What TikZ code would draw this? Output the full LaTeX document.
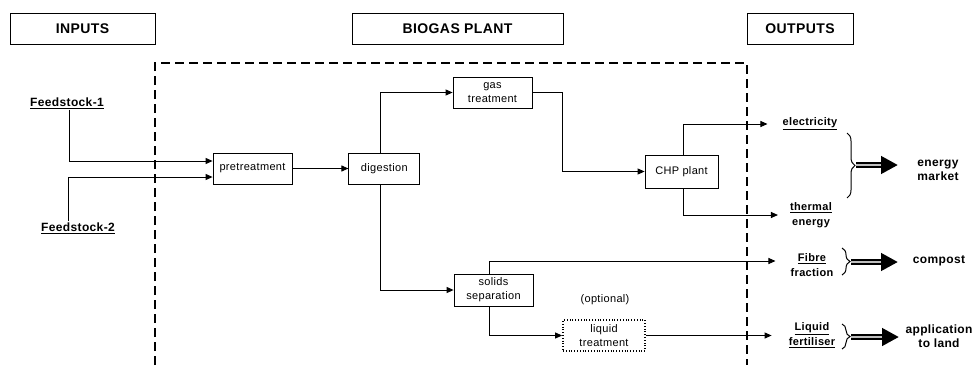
\documentclass[tikz,border=0pt]{standalone}
\usepackage{fontspec}
\setmainfont{Liberation Sans}[LetterSpace=3]
\usetikzlibrary{positioning, arrows.meta, decorations.pathreplacing}

\begin{document}
\begin{tikzpicture}[
                  x=1pt, y=-1pt,
                  box/.style={draw, line width=0.8pt, font=\fontsize{11}{14}\selectfont, inner sep=2pt,
                              minimum height=31pt, align=center},
                  head/.style={draw, line width=0.8pt, font=\fontsize{14}{16}\selectfont\bfseries,
                               minimum height=31pt},
                  feed/.style={font=\fontsize{12}{14}\selectfont\bfseries, inner sep=1pt},
                  prod/.style={font=\fontsize{11}{15}\selectfont\bfseries, inner sep=1pt, align=center},
                  final/.style={font=\fontsize{12}{14}\selectfont\bfseries, inner sep=1pt, align=center},
                  arr/.style={-{Triangle[length=7pt, width=6pt]}, line width=1pt},
                  plant/.style={line width=1.8pt, dash pattern=on 9pt off 5pt},
                  brc/.style={decorate, decoration={brace, amplitude=8pt}, line width=1pt},
                  dbl/.style={line width=5.5pt, -{Triangle[length=17pt, width=17pt]},
                              postaction={draw=gray!50, line width=1.8pt, -, shorten >=17pt}},
            ]
            \useasboundingbox (0,0) rectangle (976,365);

            % Row 0: headings
            \node[head, minimum width=145pt] (inp) at (82.5,28.5) {INPUTS};
            \node[head, minimum width=211pt] (bio) at (457.5,28.5) {BIOGAS PLANT};
            \node[head, minimum width=106pt] (outp) at (800,28.5) {OUTPUTS};

            % plant border (open at the bottom)
            \draw[plant] (155,365) |- (747,63) -- (747,365);

            % inputs
            \node[feed] (f1) at (67,103) {\underline{Feedstock-1}};
            \node[feed] (f2) at (78,228) {\underline{Feedstock-2}};

            % plant stages
            \node[box, minimum width=79pt] (pre) at (252.5,168.5) {pretreatment};
            \node[box, minimum width=71pt, right=56pt of pre] (dig) {digestion};
            \node[box, minimum width=79pt] (gas) at (492.5,92.5) {gas\\treatment};
            \node[box, minimum width=73pt, minimum height=33pt] (chp) at (681.5,171.5) {CHP plant};
            \node[box, minimum width=79pt, minimum height=32pt] (sol) at (493.5,290) {solids\\separation};
            \node[box, minimum width=82pt, dotted, line width=1.8pt] (liq) at (604,335.5) {liquid\\treatment};
            \node[font=\fontsize{11}{13}\selectfont] (opt) at (605,300) {(optional)};

            % products
            \node[prod] (elec) at (810,124) {\underline{electricity}};
            \node[prod] (therm) at (811,215) {\underline{thermal}\\energy};
            \node[prod] (fibre) at (812,265) {\underline{Fibre}\\fraction};
            \node[prod] (lfert) at (812,335) {\underline{Liquid}\\\underline{fertiliser}};

            % final uses
            \node[final] (emkt) at (938,170) {energy\\market};
            \node[final] (comp) at (939,261) {compost};
            \node[final] (land) at (939,336) {application\\to land};

            % Arrows
            \draw[arr] ([xshift=2pt]f1.south) |- ([yshift=7.5pt]pre.west);
            \draw[arr] ([xshift=-10pt]f2.north) |- ([yshift=-8.5pt]pre.west);
            \draw[arr] (pre) -- (dig);
            \draw[arr] ([xshift=-4pt]dig.north) |- (gas.west);
            \draw[arr] (gas.east) -| ++(30,0) |- (chp.west);
            \draw[arr, shorten >=14pt] ([xshift=1.5pt]chp.north) |- (elec.west);
            \draw[arr, shorten >=11pt] ([xshift=1.5pt]chp.south) |- (therm.west);
            \draw[arr] ([xshift=-4pt]dig.south) |- (sol.west);
            \draw[arr, shorten >=14pt] ([xshift=-4.5pt]sol.north) |- ([yshift=4pt]fibre.west);
            \draw[arr] ([xshift=-4.5pt]sol.south) |- (liq.west);
            \draw[arr, shorten >=16pt] (liq.east) -- (liq.east -| lfert.west);

            % braces and output arrows
            \draw[brc] (847,133) -- (847,198);
            \draw[brc] (842,248) -- (842,275);
            \draw[brc] (842,324) -- (842,349);
            \coordinate (t1) at (856,165);
            \coordinate (t2) at (851,262);
            \coordinate (t3) at (851,337);
            \coordinate (h1) at (898,165);
            \coordinate (h2) at (898,262);
            \coordinate (h3) at (899,337);
            \draw[dbl] (t1) -- (h1);
            \draw[dbl] (t2) -- (h2);
            \draw[dbl] (t3) -- (h3);

      \end{tikzpicture}
\end{document}
